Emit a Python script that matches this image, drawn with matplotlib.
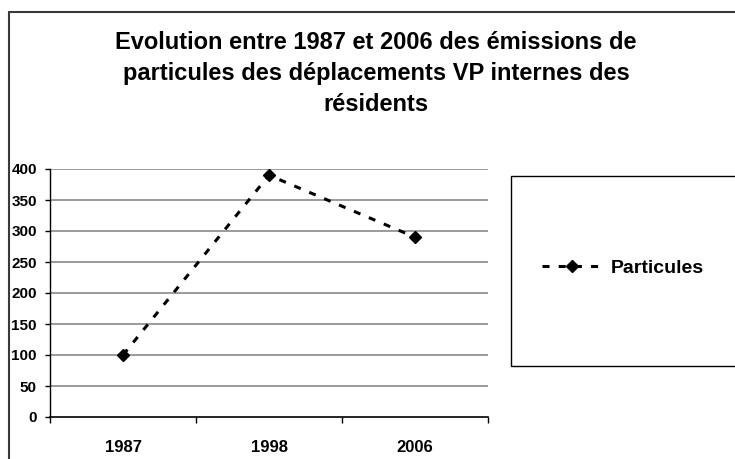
import matplotlib.pyplot as plt
from matplotlib.lines import Line2D
from matplotlib.patches import Rectangle

# données
annees = ['1987', '1998', '2006']
particules = [100, 390, 290]
yticks = [0, 50, 100, 150, 200, 250, 300, 350, 400]
titre = ["Evolution entre 1987 et 2006 des émissions de",
         "particules des déplacements VP internes des",
         "résidents"]

plt.rcParams['font.family'] = ['Liberation Sans', 'DejaVu Sans']
plt.rcParams['font.weight'] = 'bold'

W, H = 735, 459
fig = plt.figure(figsize=(W / 100, H / 100), dpi=100)

# cadre extérieur du graphique (coupé à droite et en bas)
fig.add_artist(Rectangle((8.5 / W, -0.1), 1.1, 1 - 12.5 / H + 0.1, transform=fig.transFigure,
                         fill=False, edgecolor='#3a3a3a', linewidth=1.5, clip_on=False))

# titre, une ligne à la fois
for i, ligne in enumerate(titre):
    fig.text(376 / W, 1 - (49 + 31 * i) / H, ligne, ha='center', va='baseline',
             fontsize=17, fontweight='bold')

# zone de tracé
ax = fig.add_axes([50 / W, 1 - 417 / H, (488 - 50) / W, (417 - 169) / H])
x = range(len(annees))
style = (0, (2.3, 3.0))
ax.plot(x, particules, color='black', linestyle=style, linewidth=2.2,
        marker='D', markersize=6.3, label='Particules', zorder=3)
ax.set_xlim(-0.5, len(annees) - 0.5)
ax.set_ylim(0, 400)
ax.set_yticks(yticks)
ax.set_yticklabels([str(v) for v in yticks], fontsize=11, fontweight='bold')
for v in yticks[1:]:
    ax.axhline(v, color='#808080', linewidth=1.1, zorder=0)
ax.set_xticks([-0.5, 0.5, 1.5, 2.5])
ax.set_xticklabels([])
ax.set_xticks(list(x), minor=True)
ax.set_xticklabels(annees, minor=True, fontsize=12, fontweight='bold')
ax.tick_params(axis='x', which='major', direction='out', length=4.3, width=1)
ax.tick_params(axis='x', which='minor', length=0, pad=16.5)
ax.tick_params(axis='y', direction='out', length=3.6, pad=5.8, width=1)
for s in ['top', 'right']:
    ax.spines[s].set_visible(False)
ax.spines['bottom'].set_linewidth(1.2)
ax.spines['left'].set_linewidth(1)

# légende dans son cadre
fig.add_artist(Rectangle((511 / W, 1 - 366 / H), 1, (366 - 176) / H, transform=fig.transFigure,
                         fill=False, edgecolor='black', linewidth=1, clip_on=False))
handle = Line2D([], [], color='black', linestyle=style, linewidth=2.2,
                marker='D', markersize=6.3)
fig.legend([handle], ['Particules'], loc='center left', bbox_to_anchor=(542 / W, 1 - 268 / H),
           frameon=False, borderpad=0, borderaxespad=0, handlelength=3.1, handletextpad=0.46,
           prop={'weight': 'bold', 'size': 14})

fig.savefig('out.png', dpi=100)
